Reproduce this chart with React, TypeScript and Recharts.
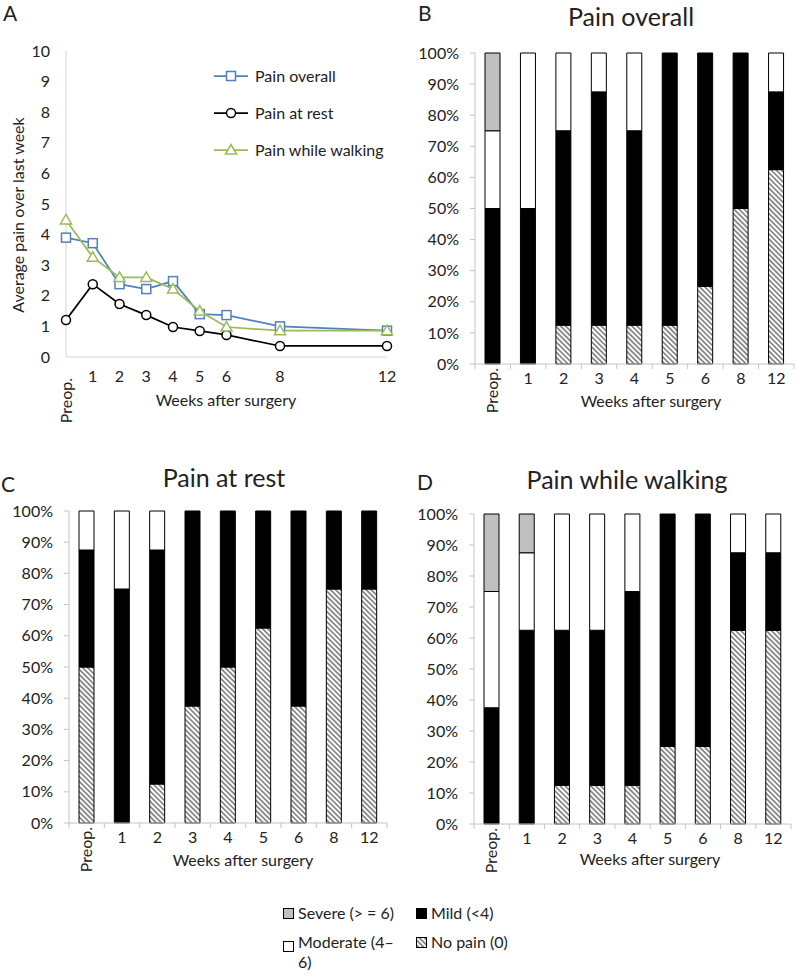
import React from "react"
import { LineChart, Line, BarChart, Bar, XAxis, YAxis, Legend } from "recharts"

// weeks after surgery (0 = preoperative)
const weeks = [0, 1, 2, 3, 4, 5, 6, 8, 12]
const weekLabels = ["Preop.", "1", "2", "3", "4", "5", "6", "8", "12"]

// panel A: average pain over last week
const painOverall = [3.9, 3.72, 2.38, 2.22, 2.48, 1.4, 1.37, 1.0, 0.86]
const painRest = [1.21, 2.38, 1.73, 1.37, 0.98, 0.85, 0.72, 0.36, 0.36]
const painWalking = [4.48, 3.26, 2.6, 2.6, 2.22, 1.5, 0.98, 0.86, 0.86]
const painTicks = [0, 1, 2, 3, 4, 5, 6, 7, 8, 9, 10]

// panels B-D: % of patients, stacked bottom -> top
const overallNone = [0, 0, 12.5, 12.5, 12.5, 12.5, 25, 50, 62.5]
const overallMild = [50, 50, 62.5, 75, 62.5, 87.5, 75, 50, 25]
const overallModerate = [25, 50, 25, 12.5, 25, 0, 0, 0, 12.5]
const overallSevere = [25, 0, 0, 0, 0, 0, 0, 0, 0]

const restNone = [50, 0, 12.5, 37.5, 50, 62.5, 37.5, 75, 75]
const restMild = [37.5, 75, 75, 62.5, 50, 37.5, 62.5, 25, 25]
const restModerate = [12.5, 25, 12.5, 0, 0, 0, 0, 0, 0]
const restSevere = [0, 0, 0, 0, 0, 0, 0, 0, 0]

const walkNone = [0, 0, 12.5, 12.5, 12.5, 25, 25, 62.5, 62.5]
const walkMild = [37.5, 62.5, 50, 50, 62.5, 75, 75, 25, 25]
const walkModerate = [37.5, 25, 37.5, 37.5, 25, 0, 0, 12.5, 12.5]
const walkSevere = [25, 12.5, 0, 0, 0, 0, 0, 0, 0]

const pctTicks = [0, 10, 20, 30, 40, 50, 60, 70, 80, 90, 100]

const FONT = "Lato, 'Open Sans', sans-serif"
const FS = 16
const TXT = "#222"
const AXIS = "#c4c4c4"
const BLUE = "#4f81bd"
const GREEN = "#9bbb59"
const SEVERE = "#c0c0c0"

const lineData = weeks.map((w, i) => ({
  week: w,
  overall: painOverall[i],
  rest: painRest[i],
  walking: painWalking[i],
}))
const legendOrder = ["overall", "rest", "walking"]

const stack = (none: number[], mild: number[], moderate: number[], severe: number[]) =>
  weekLabels.map((w, i) => ({ week: w, none: none[i], mild: mild[i], moderate: moderate[i], severe: severe[i] }))

const overallData = stack(overallNone, overallMild, overallModerate, overallSevere)
const restData = stack(restNone, restMild, restModerate, restSevere)
const walkData = stack(walkNone, walkMild, walkModerate, walkSevere)

function Marker({ kind, cx, cy, color }: { kind: string; cx: number; cy: number; color: string }) {
  if (kind === "overall")
    return <rect x={cx - 4.5} y={cy - 4.5} width={9} height={9} fill="#fff" stroke={color} strokeWidth={1.5} />
  if (kind === "walking")
    return <polygon points={`${cx},${cy - 5.5} ${cx + 5.5},${cy + 4} ${cx - 5.5},${cy + 4}`} fill="#fff" stroke={color} strokeWidth={1.5} />
  return <circle cx={cx} cy={cy} r={4.5} fill="#fff" stroke={color} strokeWidth={1.5} />
}

const dotFor = (kind: string, color: string) => (p: any) =>
  <Marker key={`${kind}-${p.index}`} kind={kind} cx={p.cx} cy={p.cy} color={color} />

function PreopText({ x, y }: { x: number; y: number }) {
  return (
    <text x={x} y={y} transform={`rotate(-90, ${x}, ${y})`} textAnchor="end" dy="0.35em"
      fill={TXT} fontSize={FS} fontFamily={FONT}>Preop.</text>
  )
}

function LineTick(props: any) {
  const { x, y, payload } = props
  const label = weekLabels[weeks.indexOf(payload.value)]
  if (label === "Preop.") return <PreopText x={x} y={y + 2} />
  return <text x={x} y={y} dy="0.35em" textAnchor="middle" fill={TXT} fontSize={FS} fontFamily={FONT}>{label}</text>
}

// category label plus tick marks between categories
function WeekTick(props: any) {
  const { x, y, payload, index, visibleTicksCount, width } = props
  const band = width / visibleTicksCount
  const axisY = y - 14
  const last = index === visibleTicksCount - 1
  return (
    <g>
      <line x1={x - band / 2} x2={x - band / 2} y1={axisY} y2={axisY + 5} stroke={AXIS} />
      {last && <line x1={x + band / 2} x2={x + band / 2} y1={axisY} y2={axisY + 5} stroke={AXIS} />}
      {payload.value === "Preop." ? (
        <PreopText x={x} y={y - 10} />
      ) : (
        <text x={x} y={y} dy="0.35em" textAnchor="middle" fill={TXT} fontSize={FS} fontFamily={FONT}>{payload.value}</text>
      )}
    </g>
  )
}

function LineLegend(props: any) {
  const colors: Record<string, string> = { overall: BLUE, rest: "#000", walking: GREEN }
  const items = [...(props.payload || [])].sort(
    (a: any, b: any) => legendOrder.indexOf(a.dataKey) - legendOrder.indexOf(b.dataKey)
  )
  return (
    <div style={{ fontFamily: FONT, fontSize: FS, color: TXT }}>
      {items.map((e: any) => (
        <div key={e.dataKey} style={{ display: "flex", alignItems: "center", height: 37 }}>
          <svg width={41} height={14}>
            <line x1={0} x2={34} y1={7} y2={7} stroke={colors[e.dataKey]} strokeWidth={1.75} />
            <Marker kind={e.dataKey} cx={17} cy={7} color={colors[e.dataKey]} />
          </svg>
          <span>{e.value}</span>
        </div>
      ))}
    </div>
  )
}

interface PanelProps {
  data: any[]
  left: number
  top: number
  width: number
  margin: { top: number; right: number; left: number; bottom: number }
  yWidth: number
}

function StackedPanel({ data, left, top, width, margin, yWidth }: PanelProps) {
  return (
    <div style={{ position: "absolute", left, top }}>
      <BarChart width={width} height={440} data={data} margin={margin} barSize={15}>
        <XAxis
          dataKey="week"
          interval={0}
          tick={<WeekTick />}
          tickLine={false}
          tickSize={5}
          tickMargin={9}
          axisLine={{ stroke: AXIS }}
          height={40}
        />
        <YAxis
          domain={[0, 100]}
          ticks={pctTicks}
          interval={0}
          tickFormatter={(v: number) => `${v}%`}
          width={yWidth}
          tickSize={5}
          tickMargin={11}
          axisLine={{ stroke: AXIS }}
          tickLine={{ stroke: AXIS }}
          tick={{ fill: TXT, fontSize: FS, fontFamily: FONT }}
        />
        <Bar dataKey="none" stackId="a" fill="url(#hatch)" stroke="#000" strokeWidth={1} isAnimationActive={false} />
        <Bar dataKey="mild" stackId="a" fill="#000" stroke="#000" strokeWidth={1} isAnimationActive={false} />
        <Bar dataKey="moderate" stackId="a" fill="#fff" stroke="#000" strokeWidth={1} isAnimationActive={false} />
        <Bar dataKey="severe" stackId="a" fill={SEVERE} stroke="#000" strokeWidth={1} isAnimationActive={false} />
      </BarChart>
    </div>
  )
}

const abs = (left: number, top: number, extra: React.CSSProperties = {}): React.CSSProperties => ({
  position: "absolute", left, top, fontFamily: FONT, color: TXT, whiteSpace: "nowrap", ...extra,
})
const centered = (x: number, y: number, size: number): React.CSSProperties =>
  abs(x, y, { fontSize: size, transform: "translate(-50%, -50%)", lineHeight: 1 })

function Swatch({ fill }: { fill: string }) {
  return (
    <svg width={11} height={11} style={{ marginRight: 4, flex: "none" }}>
      <rect x={0.5} y={0.5} width={10} height={10} fill={fill} stroke="#000" />
    </svg>
  )
}

export default function App() {
  return (
    <div style={{ position: "absolute", left: 0, top: 0, width: 797, height: 978, background: "#fff", overflow: "hidden" }}>
      <svg width={0} height={0} style={{ position: "absolute" }}>
        <defs>
          <pattern id="hatch" patternUnits="userSpaceOnUse" width={3.6} height={3.6} patternTransform="rotate(-45)">
            <rect width={3.6} height={3.6} fill="#fff" />
            <line x1={1.8} y1={0} x2={1.8} y2={3.6} stroke="#7a7a7a" strokeWidth={1.6} />
          </pattern>
        </defs>
      </svg>

      {/* A */}
      <div style={{ position: "absolute", left: 0, top: 0 }}>
        <LineChart width={400} height={440} data={lineData} margin={{ top: 51, right: 13, left: 0, bottom: 53 }}>
          <XAxis
            dataKey="week"
            type="number"
            domain={[0, 12]}
            ticks={weeks}
            interval={0}
            tick={<LineTick />}
            tickLine={false}
            tickSize={0}
            tickMargin={19}
            axisLine={{ stroke: "#d4d4d4" }}
            height={30}
          />
          <YAxis
            domain={[0, 10]}
            ticks={painTicks}
            interval={0}
            width={66}
            tickLine={false}
            tickMargin={10}
            axisLine={{ stroke: "#d4d4d4" }}
            tick={{ fill: TXT, fontSize: FS, fontFamily: FONT }}
          />
          <Legend
            layout="vertical"
            align="center"
            verticalAlign="middle"
            wrapperStyle={{ left: 214, top: 57, width: 185 }}
            content={<LineLegend />}
          />
          <Line dataKey="overall" name="Pain overall" stroke={BLUE} strokeWidth={1.75} dot={dotFor("overall", BLUE)} isAnimationActive={false} />
          <Line dataKey="rest" name="Pain at rest" stroke="#000" strokeWidth={1.75} dot={dotFor("rest", "#000")} isAnimationActive={false} />
          <Line dataKey="walking" name="Pain while walking" stroke={GREEN} strokeWidth={1.75} dot={dotFor("walking", GREEN)} isAnimationActive={false} />
        </LineChart>
      </div>
      <div style={abs(3, 0, { fontSize: 21 })}>A</div>
      <div style={abs(17, 215, { fontSize: FS, transform: "translate(-50%, -50%) rotate(-90deg)" })}>Average pain over last week</div>
      <div style={centered(226, 400, FS)}>Weeks after surgery</div>

      {/* B */}
      <StackedPanel data={overallData} left={400} top={0} width={397} yWidth={75} margin={{ top: 53, right: 3, left: 0, bottom: 36 }} />
      <div style={abs(418, 0, { fontSize: 21 })}>B</div>
      <div style={centered(631, 16, 25)}>Pain overall</div>
      <div style={centered(651, 401, FS)}>Weeks after surgery</div>

      {/* C */}
      <StackedPanel data={restData} left={0} top={440} width={400} yWidth={69} margin={{ top: 71, right: 13, left: 0, bottom: 17 }} />
      <div style={abs(1, 471, { fontSize: 21 })}>C</div>
      <div style={centered(224, 477, 25)}>Pain at rest</div>
      <div style={centered(243, 860, FS)}>Weeks after surgery</div>

      {/* D */}
      <StackedPanel data={walkData} left={400} top={440} width={397} yWidth={74} margin={{ top: 74, right: 6, left: 0, bottom: 16 }} />
      <div style={abs(417, 469, { fontSize: 21 })}>D</div>
      <div style={centered(627, 479, 25)}>Pain while walking</div>
      <div style={centered(650, 859, FS)}>Weeks after surgery</div>

      {/* shared legend */}
      <div style={abs(283, 903, { fontSize: FS, lineHeight: "20px", whiteSpace: "normal" })}>
        <div style={{ position: "absolute", left: 0, top: 0, display: "flex", alignItems: "center", width: 130, whiteSpace: "nowrap" }}>
          <Swatch fill={SEVERE} />Severe (&gt; = 6)
        </div>
        <div style={{ position: "absolute", left: 133, top: 0, display: "flex", alignItems: "center", width: 110, whiteSpace: "nowrap" }}>
          <Swatch fill="#000" />Mild (&lt;4)
        </div>
        <div style={{ position: "absolute", left: 0, top: 29, display: "flex", alignItems: "flex-start", width: 130, whiteSpace: "nowrap" }}>
          <span style={{ marginTop: 4 }}><Swatch fill="#fff" /></span>
          <span>Moderate (4–<br />6)</span>
        </div>
        <div style={{ position: "absolute", left: 133, top: 29, display: "flex", alignItems: "center", width: 130, whiteSpace: "nowrap" }}>
          <Swatch fill="url(#hatch)" />No pain (0)
        </div>
      </div>
    </div>
  )
}
